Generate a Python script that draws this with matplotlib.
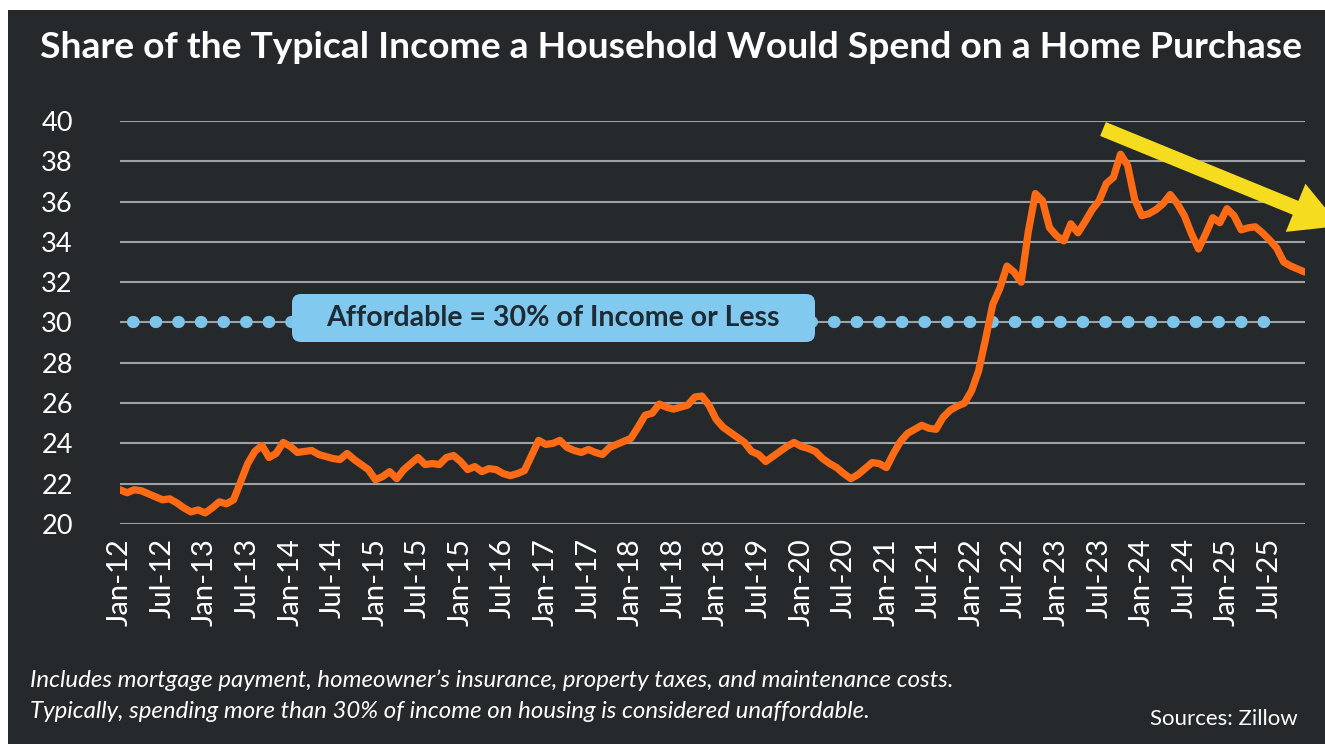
import matplotlib
matplotlib.use("Agg")
import matplotlib.pyplot as plt
from matplotlib.patches import Rectangle, FancyArrow, FancyBboxPatch
from matplotlib.transforms import IdentityTransform
import numpy as np

plt.rcParams['font.family'] = ['Lato', 'DejaVu Sans']

# ----------------------------
# data, monthly Jan-2012 .. Dec-2025
# ----------------------------
share = [
    21.7, 21.55, 21.7, 21.65, 21.5, 21.35, 21.2, 21.25, 21.05, 20.8, 20.6, 20.7,     # 2012
    20.55, 20.8, 21.1, 21.0, 21.2, 22.1, 23.0, 23.6, 23.9, 23.3, 23.5, 24.05,        # 2013
    23.85, 23.55, 23.6, 23.65, 23.45, 23.35, 23.25, 23.2, 23.5, 23.2, 22.95, 22.7,  # 2014
    22.2, 22.35, 22.6, 22.25, 22.7, 23.0, 23.3, 22.95, 23.0, 22.95, 23.3, 23.4,     # 2015
    23.1, 22.7, 22.85, 22.6, 22.75, 22.7, 22.5, 22.4, 22.5, 22.65, 23.4, 24.15,     # 2016
    23.95, 24.0, 24.15, 23.8, 23.65, 23.55, 23.7, 23.55, 23.45, 23.8, 23.95, 24.1,  # 2017
    24.25, 24.8, 25.4, 25.5, 25.95, 25.8, 25.7, 25.8, 25.9, 26.3, 26.35, 25.9,      # 2018
    25.2, 24.8, 24.55, 24.3, 24.05, 23.6, 23.45, 23.1, 23.35, 23.6, 23.85, 24.05,   # 2019
    23.85, 23.75, 23.6, 23.25, 23.0, 22.8, 22.5, 22.25, 22.45, 22.75, 23.05, 23.0,  # 2020
    22.8, 23.5, 24.1, 24.5, 24.7, 24.9, 24.75, 24.7, 25.3, 25.65, 25.85, 26.0,      # 2021
    26.6, 27.6, 29.2, 30.9, 31.7, 32.8, 32.5, 32.0, 34.5, 36.4, 36.05, 34.7,        # 2022
    34.3, 34.05, 34.9, 34.45, 35.0, 35.6, 36.05, 36.9, 37.2, 38.35, 37.8, 36.1,     # 2023
    35.3, 35.4, 35.6, 35.9, 36.35, 35.9, 35.3, 34.4, 33.65, 34.4, 35.2, 34.95,      # 2024
    35.65, 35.3, 34.6, 34.7, 34.75, 34.45, 34.1, 33.7, 33.0, 32.8, 32.65, 32.5,     # 2025
]
months = np.arange(len(share))

tick_months = list(range(0, 163, 6))
tick_labels = ["Jan-12", "Jul-12", "Jan-13", "Jul-13", "Jan-14", "Jul-14", "Jan-15",
               "Jul-15", "Jan-15", "Jul-16", "Jan-17", "Jul-17", "Jan-18", "Jul-18",
               "Jan-18", "Jul-19", "Jan-20", "Jul-20", "Jan-21", "Jul-21", "Jan-22",
               "Jul-22", "Jan-23", "Jul-23", "Jan-24", "Jul-24", "Jan-25", "Jul-25"]
y_ticks = list(range(20, 41, 2))
affordable = 30

bg = "#25292c"
W, H = 1325, 744

fig = plt.figure(figsize=(W / 100, H / 100), dpi=100, facecolor="white")
# dark panel with thin white strips at top and left
fig.add_artist(Rectangle((8 / W, 0), 1, 1 - 10 / H, transform=fig.transFigure,
                         facecolor=bg, edgecolor="none", zorder=-10))

ax = fig.add_axes([120 / W, (H - 524) / H, 1185 / W, 403 / H])
ax.set_facecolor(bg)
ax.set_xlim(0, len(share) - 1)
ax.set_ylim(20, 40)
for s in ax.spines.values():
    s.set_visible(False)
ax.set_yticks(y_ticks)
ax.set_yticklabels([str(v) for v in y_ticks])
ax.set_xticks(tick_months)
ax.set_xticklabels(tick_labels, rotation=90)
ax.tick_params(axis="both", length=0, colors="white")
ax.tick_params(axis="y", pad=34, labelsize=19.5)
ax.tick_params(axis="x", pad=10, labelsize=21)
ax.grid(axis="y", color="#9ea2a5", linewidth=1.5)
ax.set_axisbelow(True)

# affordability threshold - dotted line
ax.axhline(affordable, xmin=0.011, xmax=0.98, color="#7cc4ea", linewidth=8.8,
           dashes=(0.05, 1.8), dash_capstyle="round", zorder=2)

ax.plot(months, share, color="#ff6b14", linewidth=5.2, solid_joinstyle="round",
        solid_capstyle="round", zorder=5)

# label box (pixel coordinates), sits just above the 30% line
box = FancyBboxPatch((292, H - 342), 523, 48,
                     boxstyle="round,pad=0,rounding_size=9",
                     transform=IdentityTransform(), facecolor="#82c9ef",
                     edgecolor="none", zorder=3)
fig.add_artist(box)
fig.text(553 / W, 1 - 318 / H, "Affordable = 30% of Income or Less",
         ha="center", va="center", fontsize=20.5, fontweight="bold",
         color="#1d2b35", zorder=4)

# yellow trend arrow (pixel coordinates)
x0, y0 = 1103, H - 129
x1, y1 = 1340, H - 226
arrow = FancyArrow(x0, y0, x1 - x0, y1 - y0, width=15, head_width=52,
                   head_length=48, length_includes_head=True,
                   transform=IdentityTransform(), facecolor="#f6dc1e",
                   edgecolor="none", zorder=10)
fig.add_artist(arrow)

fig.text(40 / W, 1 - 47 / H,
         "Share of the Typical Income a Household Would Spend on a Home Purchase",
         ha="left", va="center", color="white", fontsize=26.8, fontweight="bold")

fig.text(30 / W, 1 - 680 / H,
         "Includes mortgage payment, homeowner\u2019s insurance, property taxes, and maintenance costs.",
         ha="left", va="center", color="white", fontsize=17.3, style="italic")
fig.text(30 / W, 1 - 711 / H,
         "Typically, spending more than 30% of income on housing is considered unaffordable.",
         ha="left", va="center", color="white", fontsize=17.3, style="italic")
fig.text(1298 / W, 1 - 719 / H, "Sources: Zillow", ha="right", va="center",
         color="white", fontsize=16)

fig.savefig("out.png", dpi=100, facecolor=fig.get_facecolor())
